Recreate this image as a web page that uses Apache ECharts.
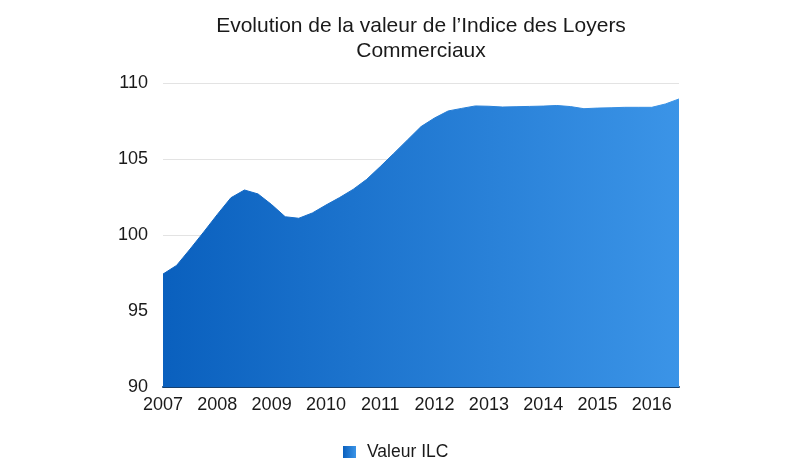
<!DOCTYPE html>
<html>
<head>
<meta charset="utf-8">
<script src="https://cdn.jsdelivr.net/npm/echarts@6/dist/echarts.min.js"></script>
<style>html,body{margin:0;padding:0;background:#fff}#c{width:800px;height:471px}</style>
</head>
<body>
<div id="c"></div>
<script>
var quarters = [
  '2007 T1','2007 T2','2007 T3','2007 T4',
  '2008 T1','2008 T2','2008 T3','2008 T4',
  '2009 T1','2009 T2','2009 T3','2009 T4',
  '2010 T1','2010 T2','2010 T3','2010 T4',
  '2011 T1','2011 T2','2011 T3','2011 T4',
  '2012 T1','2012 T2','2012 T3','2012 T4',
  '2013 T1','2013 T2','2013 T3','2013 T4',
  '2014 T1','2014 T2','2014 T3','2014 T4',
  '2015 T1','2015 T2','2015 T3','2015 T4',
  '2016 T1','2016 T2','2016 T3'
];
var ilcValues = [
  97.43, 98.0, 99.08, 100.2,
  101.35, 102.45, 102.96, 102.7,
  102.0, 101.2, 101.1, 101.45,
  101.97, 102.46, 103.0, 103.66,
  104.5, 105.37, 106.25, 107.13,
  107.7, 108.16, 108.33, 108.49,
  108.47, 108.42, 108.44, 108.46,
  108.48, 108.52, 108.45, 108.31,
  108.35, 108.37, 108.40, 108.40,
  108.40, 108.62, 108.95
];
var yTicks = { min: 90, max: 110, interval: 5 };
var seriesName = 'Valeur ILC';

var grad = new echarts.graphic.LinearGradient(0, 0, 1, 0, [
  { offset: 0, color: '#0a60be' },
  { offset: 1, color: '#3b94e7' }
]);
var FONT = 'Liberation Sans, Arial, Helvetica, sans-serif';

var chart = echarts.init(document.getElementById('c'));
chart.setOption({
  animation: false,
  backgroundColor: '#ffffff',
  title: {
    text: 'Evolution de la valeur de l\u2019Indice des Loyers\nCommerciaux',
    left: 421,
    top: 14,
    padding: 0,
    textAlign: 'center',
    textStyle: {
      fontFamily: FONT,
      fontSize: 21,
      fontWeight: 'normal',
      color: '#1a1a1a',
      lineHeight: 25
    }
  },
  legend: {
    data: [seriesName],
    left: 343,
    top: 443,
    padding: 0,
    itemWidth: 13,
    itemHeight: 12,
    itemGap: 10,
    icon: 'rect',
    textStyle: {
      fontFamily: FONT,
      fontSize: 17.5,
      color: '#1a1a1a',
      padding: [0, 0, 0, 6]
    }
  },
  grid: { left: 163, right: 121, top: 83, bottom: 84, containLabel: false },
  xAxis: {
    type: 'category',
    data: quarters,
    boundaryGap: false,
    axisLine: { show: true, lineStyle: { color: '#16406e', width: 2 } },
    axisTick: { show: false },
    splitLine: { show: false },
    axisLabel: {
      interval: 3,
      margin: 9,
      formatter: function (v) { return v.slice(0, 4); },
      fontFamily: FONT,
      fontSize: 18,
      color: '#1a1a1a'
    }
  },
  yAxis: {
    type: 'value',
    min: yTicks.min,
    max: yTicks.max,
    interval: yTicks.interval,
    axisLine: { show: false },
    axisTick: { show: false },
    splitLine: { show: true, lineStyle: { color: '#e3e3e3', width: 1 } },
    axisLabel: {
      margin: 15,
      fontFamily: FONT,
      fontSize: 18,
      color: '#1a1a1a'
    }
  },
  series: [{
    name: seriesName,
    type: 'line',
    data: ilcValues,
    showSymbol: false,
    smooth: false,
    lineStyle: { width: 1, color: grad },
    itemStyle: { color: grad },
    areaStyle: { color: grad, opacity: 1 },
    z: 1
  }]
});
</script>
</body>
</html>
